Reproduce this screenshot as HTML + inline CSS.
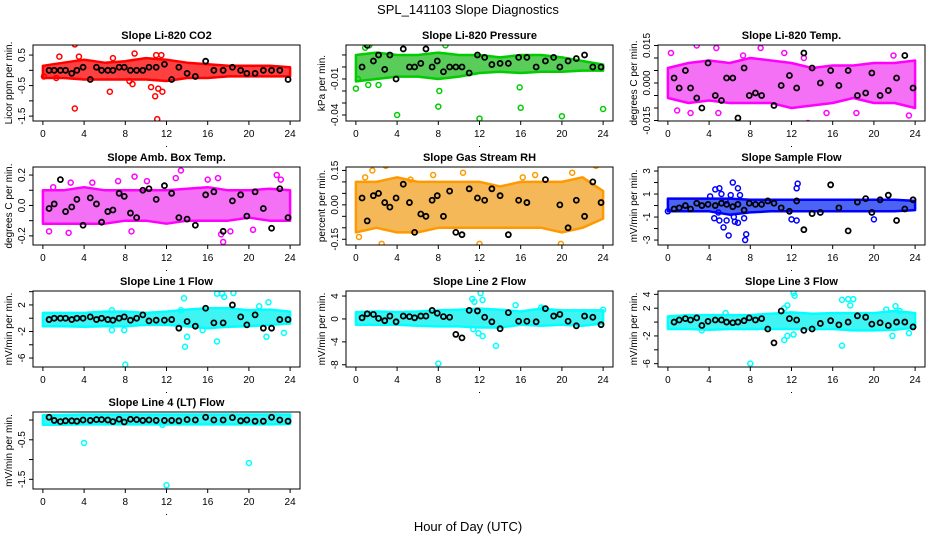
<!DOCTYPE html>
<html><head><meta charset="utf-8"><style>
body{margin:0;background:#fff}
svg text{font-family:"Liberation Sans",sans-serif}
</style></head><body>
<svg id="c" width="936" height="540" xmlns="http://www.w3.org/2000/svg">
<rect width="936" height="540" fill="#fff"/>
<text x="468" y="14" text-anchor="middle" font-size="13">SPL_141103  Slope Diagnostics</text>
<text x="468" y="531" text-anchor="middle" font-size="13">Hour of Day (UTC)</text>
</svg>
<script>
const xTicks=[0,4,8,12,16,20,24];
const bandHours=[0,2,4,6,8,10,12,14,16,18,20,22,24];
const blackX=[0.6,1.1,1.7,2.2,2.8,3.3,3.9,4.6,5.2,5.7,6.3,6.8,7.4,7.9,8.5,9.1,9.7,10.3,11.0,11.8,12.5,13.2,14.0,14.8,15.8,16.6,17.5,18.4,19.2,19.8,20.6,21.4,22.2,23.0,23.8];

const co2Lo=[-0.25,-0.25,-0.3,-0.3,-0.3,-0.3,-0.35,-0.25,-0.25,-0.2,-0.2,-0.2,-0.2];
const co2Hi=[0.15,0.25,0.35,0.25,0.3,0.4,0.35,0.25,0.2,0.15,0.15,0.15,0.1];
const co2OutX=[3.1,1.6,3.5,6.8,8.9,11,11.5,3.1,6.5,10.5,11.2,10.9,11.6,11.1,8.4,8.7,1.3,0.1];
const co2OutY=[0.85,0.45,0.45,0.4,0.55,0.5,0.5,-1.25,-0.7,-0.55,-0.6,-0.85,-0.7,-1.6,-0.35,-0.45,-0.25,-0.2];
const co2Black=[0,0,0,0,-0.1,0,0.1,-0.3,0.1,0,0,0,0.1,0.1,0,0,0,0.1,0.1,0.2,-0.3,0.1,-0.1,-0.2,0.3,0,0,0.1,0,-0.1,-0.1,0,0,0,-0.3];

const presLo=[-0.012,-0.01,-0.008,-0.008,-0.01,-0.008,-0.005,-0.004,-0.005,-0.004,-0.004,-0.003,-0.003];
const presHi=[0.01,0.012,0.01,0.01,0.012,0.01,0.01,0.008,0.01,0.01,0.008,0.005,0.002];
const presOutX=[0,0.9,1.3,8.7,8.1,4.0,8.0,12,16,20,24,15.9,1.2,2.2,0.2];
const presOutY=[-0.018,0.016,0.018,0.018,-0.02,-0.04,-0.033,-0.043,-0.034,-0.041,-0.035,-0.017,-0.015,-0.015,-0.01];
const presBlack=[0,0.018,0.005,0.01,-0.002,0.01,-0.01,0.015,0,0,0.003,0.015,0,0.005,-0.004,0,0,0,-0.005,0.01,0.008,0.002,0.003,0.003,0.008,0.008,0,0.005,0.008,0,0.005,0.007,0.01,0,0];

const tempLo=[-0.006,-0.008,-0.007,-0.008,-0.008,-0.008,-0.01,-0.009,-0.008,-0.006,-0.008,-0.008,-0.01];
const tempHi=[0.006,0.008,0.009,0.008,0.01,0.009,0.008,0.006,0.007,0.007,0.008,0.008,0.009];
const tempOutX=[0.3,2.8,4.7,9,11.3,21,0.9,2.2,4.9,13.6,18.3,23.1,23.4,15.4,7.3,21.9,13.2];
const tempOutY=[0.012,0.015,0.014,0.014,0.012,0.017,-0.011,-0.012,-0.012,-0.016,-0.012,-0.017,-0.013,-0.012,0.011,0.011,0.01];
const tempBlack=[0.002,-0.002,0.005,-0.002,-0.006,-0.01,0.008,-0.005,-0.007,0.002,0.002,-0.014,0.006,-0.005,-0.004,-0.005,-0.018,-0.009,-0.001,0.003,-0.002,0.012,0.006,0,0.005,-0.001,0.005,-0.005,-0.004,0.004,-0.005,-0.003,0.002,0.011,-0.002];

const ambLo=[-0.12,-0.12,-0.12,-0.12,-0.1,-0.1,-0.12,-0.1,-0.1,-0.1,-0.08,-0.1,-0.1];
const ambHi=[0.1,0.1,0.12,0.1,0.1,0.1,0.1,0.11,0.12,0.1,0.1,0.11,0.1];
const ambOutX=[0.6,2.5,1.0,2.7,4.8,7.3,8.6,8.9,13.4,12.9,16,17,17.3,17.5,18.2,20.4,22.7,23.1,10.1,14.8];
const ambOutY=[-0.17,-0.18,0.12,0.15,0.15,0.16,-0.17,0.19,0.23,0.18,0.17,0.18,-0.19,-0.24,-0.17,-0.16,0.2,0.17,0.16,-0.13];
const ambBlack=[-0.02,0.01,0.17,-0.04,-0.01,0.04,-0.13,0.05,0.01,-0.11,-0.04,-0.03,0.08,0.06,-0.05,-0.08,0.1,0.11,0.04,0.13,0.08,-0.08,-0.09,-0.13,0.07,0.09,-0.17,0.03,0.07,-0.07,0.09,-0.02,-0.15,0.11,-0.08];

const rhLo=[-0.12,-0.1,-0.12,-0.12,-0.1,-0.1,-0.1,-0.1,-0.1,-0.1,-0.12,-0.1,-0.06];
const rhHi=[0.1,0.1,0.12,0.1,0.1,0.1,0.1,0.08,0.1,0.1,0.1,0.12,0.06];
const rhOutX=[0.3,0.9,1.6,2.9,2.5,5.3,7.5,10.4,14.3,15.8,17.4,21.0,23.3,12,19.9,16.2];
const rhOutY=[-0.14,0.12,0.15,0.17,-0.17,0.11,0.13,0.14,-0.2,-0.2,0.13,0.14,0.17,-0.17,-0.17,0.12];
const rhBlack=[0.03,-0.07,0.04,0.05,0.01,-0.01,0.03,0.09,0.01,-0.12,-0.04,-0.05,0.02,0.04,-0.05,0.06,-0.12,-0.13,0.07,0.03,0.02,0.07,0.04,-0.13,0.02,0.01,0.18,0.11,-0.21,0,-0.1,0.02,-0.05,0.1,0.01];

const sfLo=[-0.5,-0.5,-0.5,-0.8,-0.6,-0.5,-0.5,-0.5,-0.5,-0.5,-0.5,-0.5,-0.4];
const sfHi=[0.6,0.6,0.6,0.6,0.5,0.5,0.5,0.5,0.5,0.5,0.5,0.5,0.4];
const sfOutX=[4.1,4.6,5.0,5.2,5.6,6.3,6.1,6.8,7.0,4.5,5.0,5.4,5.9,6.4,6.8,7.4,7.6,7.5,5.7,6.5,12.5,12.6,12.0,12.5,20,0,4.9];
const sfOutY=[0.8,1.4,1.5,1.0,0.4,2.0,0.9,1.5,0.9,-1.1,-1.3,-1.9,-2.6,-1.0,-1.5,-1.1,-2.5,-3.0,-1.3,-1.4,1.5,1.9,-1.2,-1.3,-1.2,-0.5,-0.6];
const sfBlack=[-0.3,-0.2,0,-0.3,0.2,0,0.1,0,0.2,0.1,-0.1,0.1,-0.4,0.2,0.1,0.1,0.4,0.2,-0.2,-0.5,0.4,-2.1,-0.7,-0.6,1.8,-0.2,-2.2,0.3,0.6,-0.6,0.5,0.9,-1.3,-0.3,0.5];

const l1Lo=[-1.2,-1.2,-1.3,-1.2,-1.2,-1,-1,-1.2,-1.5,-1.3,-1.2,-1,-0.8];
const l1Hi=[0.8,0.8,0.8,1,1,0.8,1,1.3,1.5,1.5,1.2,1.3,1];
const l1OutX=[8,13.8,14,16.9,21.7,23.4,15.5,13.7,16.9,17.4,18.5,17.6,21.9,21,13.4,6.7,7.9,6.7];
const l1OutY=[-7,-4.3,-2.8,-3.5,-2.8,-2.2,-1.8,3,3.7,3.7,3.8,3.2,2.4,1.8,1.2,1.2,-1.8,-1.8];
const l1Black=[-0.2,0,0,0,-0.2,0,0,0.2,-0.2,0,-0.2,-0.3,0,0.2,-0.3,0,0.5,-0.4,-0.3,-0.3,-0.2,-1.5,-0.5,-1.2,1.5,-0.7,-0.7,2,0.2,-1,0.5,-1.5,-1.5,-0.2,-0.2];

const l2Lo=[-1,-1,-1,-1.2,-1.3,-1.3,-1.5,-1.5,-1,-1.2,-1,-1.2,-0.8];
const l2Hi=[1.2,1.3,1.2,1.3,1.5,1.6,1.8,1.6,1.3,1.8,1.5,1.5,1.5];
const l2OutX=[8,11.3,11.5,12.1,12.3,13.6,12.3,11.9,11.4,15.5,18,18.2,24];
const l2OutY=[-7.8,3.5,3,4.5,3.3,-4.7,-3,-2.5,-1.8,2.4,2,1.8,1.6];
const l2Black=[0.2,0.9,0.8,0.1,-0.3,0.5,-0.5,0.5,0.4,0.2,0.5,0.5,1.5,1,0.4,0.3,-2.7,-3.3,1.5,1.4,0.3,-0.5,-1.7,1.1,-0.4,-0.4,-0.5,1.8,0.5,0.8,-0.4,-1.2,0.5,0.3,-1];

const l3Lo=[-1,-1,-1.1,-1,-1,-1,-1,-1,-1,-1.2,-1.2,-1.1,-0.8];
const l3Hi=[0.8,1,1,1,1,1.2,1.4,1.2,1.3,1.3,1.3,1.6,1.3];
const l3OutX=[8,11.6,11.3,12.2,12.3,11.6,11.3,12.2,16.9,17.5,18,17.7,16.9,21.2,22.1,22.5,23.4,21.8,3.3,5.6];
const l3OutY=[-6,2.4,2,4.2,3.8,-2,-2.6,-1.8,3.2,3.3,3.3,2.4,-3.4,1.8,2.3,1.6,-1.6,-2,-1.2,1.3];
const l3Black=[0,0.3,0.5,0.3,0.6,-0.5,0.1,0.3,0.3,0,-0.1,0,0.2,0.6,0.3,0.5,-1,-3,1.6,0.5,0.3,-1.2,-1,-0.2,0.2,-0.4,0,0.9,0.7,-0.3,-0.1,-0.5,0,0,-0.7];

const l4Lo=[-0.12,-0.12,-0.11,-0.11,-0.11,-0.11,-0.11,-0.11,-0.11,-0.11,-0.11,-0.11,-0.1];
const l4Hi=[0.12,0.13,0.14,0.14,0.14,0.14,0.14,0.14,0.14,0.14,0.14,0.14,0.14];
const l4OutX=[4,12,20,11.6];
const l4OutY=[-0.58,-1.65,-1.09,-0.12];
const l4Black=[0.07,-0.01,-0.04,-0.02,-0.02,-0.03,0,-0.01,0.01,0.01,0,-0.04,0.02,-0.05,0.02,0.01,-0.01,0,-0.01,-0.01,-0.01,-0.02,0.01,0,0.07,0,0,0.06,-0.02,0,-0.03,-0.03,0.07,0,-0.03];

const NS='http://www.w3.org/2000/svg';
const svg=document.getElementById('c');
function mk(tag,attrs,parent){const e=document.createElementNS(NS,tag);for(const k in attrs)e.setAttribute(k,attrs[k]);(parent||svg).appendChild(e);return e;}

const cols=[33,346,658], rows=[45,167,291,412], W=267;
const rowH=[76,78,76,77];
const panels=[
 {t:'Slope Li-820 CO2',yl:'Licor ppm per min.',c:0,r:0,ymin:-1.66,ymax:0.83,ticks:[0.5,0,-0.5,-1,-1.5],labs:[0.5,-0.5,-1.5],fmt:v=>v.toFixed(1),lo:co2Lo,hi:co2Hi,ox:co2OutX,oy:co2OutY,by:co2Black,col:'#ff0000',fill:'#ff0000'},
 {t:'Slope Li-820 Pressure',yl:'kPa per min.',c:1,r:0,ymin:-0.045,ymax:0.0183,ticks:[0.01,0,-0.01,-0.02,-0.03,-0.04],labs:[-0.01,-0.04],fmt:v=>v.toFixed(2),lo:presLo,hi:presHi,ox:presOutX,oy:presOutY,by:presBlack,col:'#00cc00',fill:'#22bb22'},
 {t:'Slope Li-820 Temp.',yl:'degrees C per min.',c:2,r:0,ymin:-0.0152,ymax:0.0152,ticks:[0.015,0.01,0.005,0,-0.005,-0.01,-0.015],labs:[0.015,0,-0.015],fmt:v=>v.toFixed(3),lo:tempLo,hi:tempHi,ox:tempOutX,oy:tempOutY,by:tempBlack,col:'#ff00ff',fill:'#f040f0'},
 {t:'Slope Amb. Box Temp.',yl:'degrees C per min.',c:0,r:1,ymin:-0.26,ymax:0.253,ticks:[0.2,0.1,0,-0.1,-0.2],labs:[0.2,0,-0.2],fmt:v=>v.toFixed(1),lo:ambLo,hi:ambHi,ox:ambOutX,oy:ambOutY,by:ambBlack,col:'#ff00ff',fill:'#f040f0'},
 {t:'Slope Gas Stream RH',yl:'percent per min.',c:1,r:1,ymin:-0.175,ymax:0.165,ticks:[0.15,0.1,0.05,0,-0.05,-0.1,-0.15],labs:[0.15,0,-0.15],fmt:v=>v.toFixed(2),lo:rhLo,hi:rhHi,ox:rhOutX,oy:rhOutY,by:rhBlack,col:'#ff9900',fill:'#f0a020'},
 {t:'Slope Sample Flow',yl:'mV/min per min.',c:2,r:1,ymin:-3.43,ymax:3.35,ticks:[3,2,1,0,-1,-2,-3],labs:[3,1,-1,-3],fmt:v=>String(v),lo:sfLo,hi:sfHi,ox:sfOutX,oy:sfOutY,by:sfBlack,col:'#0000ff',fill:'#1030f0'},
 {t:'Slope Line 1 Flow',yl:'mV/min per min.',c:0,r:2,ymin:-7.35,ymax:4.1,ticks:[4,2,0,-2,-4,-6],labs:[2,-2,-6],fmt:v=>String(v),lo:l1Lo,hi:l1Hi,ox:l1OutX,oy:l1OutY,by:l1Black,col:'#00ffff',fill:'#00f0f0'},
 {t:'Slope Line 2 Flow',yl:'mV/min per min.',c:1,r:2,ymin:-8.39,ymax:4.88,ticks:[4,0,-4,-8],labs:[4,0,-4,-8],fmt:v=>String(v),lo:l2Lo,hi:l2Hi,ox:l2OutX,oy:l2OutY,by:l2Black,col:'#00ffff',fill:'#00f0f0'},
 {t:'Slope Line 3 Flow',yl:'mV/min per min.',c:2,r:2,ymin:-6.48,ymax:4.48,ticks:[4,2,0,-2,-4,-6],labs:[4,2,-2,-6],fmt:v=>String(v),lo:l3Lo,hi:l3Hi,ox:l3OutX,oy:l3OutY,by:l3Black,col:'#00ffff',fill:'#00f0f0'},
 {t:'Slope Line 4 (LT) Flow',yl:'mV/min per min.',c:0,r:3,ymin:-1.745,ymax:0.203,ticks:[0,-0.5,-1,-1.5],labs:[-0.5,-1.5],fmt:v=>v.toFixed(1),lo:l4Lo,hi:l4Hi,ox:l4OutX,oy:l4OutY,by:l4Black,col:'#00ffff',fill:'#00f0f0'}
];

panels.forEach((p,i)=>{
 const L=cols[p.c], T=rows[p.r], H=rowH[p.r];
 const g=mk('g',{});
 
 
 const sx=v=>L+W*(v+0.96)/25.92;
 const sy=v=>T+H*(p.ymax-v)/(p.ymax-p.ymin);
 const cp=mk('clipPath',{id:'cp'+i},g);
 mk('rect',{x:L,y:T,width:W,height:H},cp);
 const plot=mk('g',{'clip-path':'url(#cp'+i+')'},g);
 let d='M';
 bandHours.forEach((h,k)=>{d+=(k?'L':'')+sx(h).toFixed(1)+','+sy(p.hi[k]).toFixed(1);});
 for(let k=bandHours.length-1;k>=0;k--)d+='L'+sx(bandHours[k]).toFixed(1)+','+sy(p.lo[k]).toFixed(1);
 const band=mk('path',{d:d+'Z',fill:p.fill,'fill-opacity':0.75,stroke:p.col,'stroke-width':2.5,'stroke-linejoin':'round'},plot);
 
 
 p.ox.forEach((x,k)=>{
  const c=mk('circle',{cx:sx(x),cy:sy(p.oy[k]),r:2.5,fill:'none',stroke:p.col,'stroke-width':1.5},plot);
  
  
 });
 blackX.forEach((x,k)=>{
  const c=mk('circle',{cx:sx(x),cy:sy(p.by[k]),r:2.5,fill:'none',stroke:'#000','stroke-width':1.8},plot);
  
  
 });
 const box=mk('rect',{x:L,y:T,width:W,height:H,fill:'none',stroke:'#000','stroke-width':1},g);
 
 
 const tt=mk('text',{x:L+W/2,y:T-6,'text-anchor':'middle','font-size':11,'font-weight':'bold'},g);
 tt.textContent=p.t;
 
 
 mk('line',{x1:sx(0),x2:sx(24),y1:T+H,y2:T+H,stroke:'#000'},g);
 xTicks.forEach(v=>{
  mk('line',{x1:sx(v),x2:sx(v),y1:T+H,y2:T+H+4,stroke:'#000'},g);
  const t=mk('text',{x:sx(v),y:T+H+16,'text-anchor':'middle','font-size':10},g);
  t.textContent=v;
  
  
 });
 mk('rect',{x:L+W/2-0.5,y:T+H+25,width:1,height:1,fill:'#000'},g);
 const tv=p.ticks;
 mk('line',{x1:L,x2:L,y1:sy(Math.max(...tv)),y2:sy(Math.min(...tv)),stroke:'#000'},g);
 tv.forEach(v=>mk('line',{x1:L-4,x2:L,y1:sy(v),y2:sy(v),stroke:'#000'},g));
 p.labs.forEach(v=>{
  const x=L-8,y=sy(v);
  const t=mk('text',{x:x,y:y,'text-anchor':'middle','font-size':10,transform:'rotate(-90 '+x+' '+y+')'},g);
  t.textContent=p.fmt(v);
  
  
 });
 const yx=L-21, yy=T+H/2;
 const yt=mk('text',{x:yx,y:yy,'text-anchor':'middle','font-size':10,transform:'rotate(-90 '+yx+' '+yy+')'},g);
 yt.textContent=p.yl;
 
 
});
</script>
</body></html>
